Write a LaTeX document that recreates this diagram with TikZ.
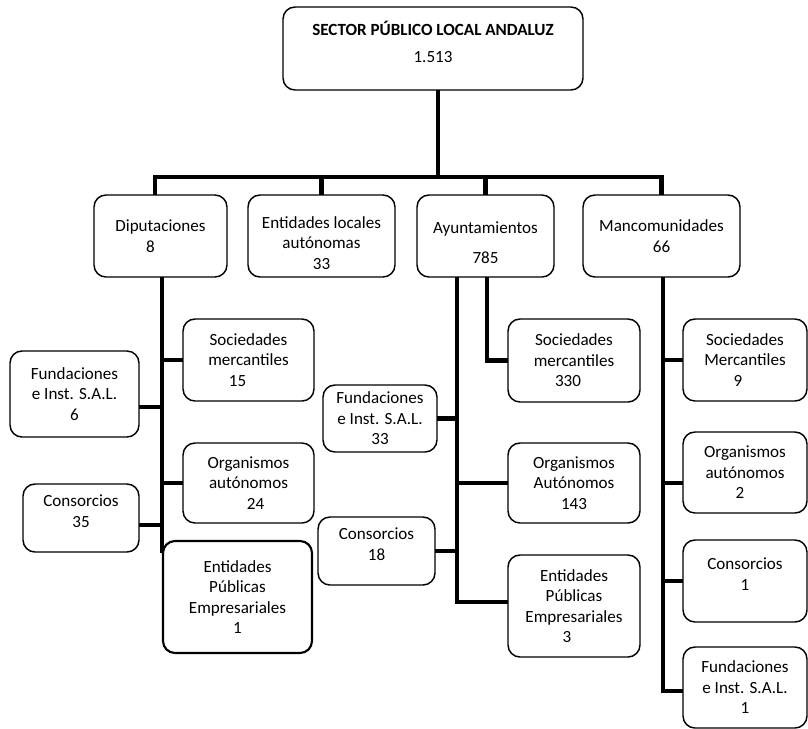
\documentclass[tikz,border=0pt]{standalone}
\usepackage{fontspec}
\setmainfont{Carlito}

\begin{document}
\begin{tikzpicture}[x=0.75pt,y=-0.75pt,
    box/.style={draw,rounded corners=9pt,line width=1.1pt,align=center,inner sep=0pt,outer sep=0pt,font=\fontsize{12.8}{15.4}\selectfont},
    conn/.style={line width=3.2pt}]

    \useasboundingbox (0,0) rectangle (808,729);

    \node[box,minimum width=225pt,minimum height=62.25pt] (sector) at (433,48.5) {\textbf{SECTOR PÚBLICO LOCAL ANDALUZ}\\[5pt]1.513\\[-5pt]\mbox{}};

    \node[box,minimum width=99.75pt,minimum height=61.5pt] (dip) at (160.5,236) {Diputaciones\\\hspace*{-15pt}8};
    \node[box,minimum width=110.25pt,minimum height=61.5pt] (ela) at (321.5,236) {\mbox{}\\[4pt]Entidades locales\\autónomas\\33};
    \node[box,minimum width=102.75pt,minimum height=61.5pt] (ayto) at (485.5,236) {\mbox{}\\[4pt]Ayuntamientos\\[7pt]785};
    \node[box,minimum width=117.75pt,minimum height=61.5pt] (manc) at (661.5,236) {Mancomunidades\\66};

    \node[box,minimum width=98.25pt,minimum height=61.5pt] (dsoc) at (248.5,360) {Sociedades\\mercantiles\\\hspace*{-16.5pt}15};
    \node[box,minimum width=96.75pt,minimum height=64.5pt] (dfun) at (74.5,394) {Fundaciones\\e Inst. S.A.L.\\6};
    \node[box,minimum width=98.25pt,minimum height=60pt] (dorg) at (248.5,483) {Organismos\\autónomos\\\hspace*{10.5pt}24};
    \node[box,minimum width=87pt,minimum height=51pt] (dcon) at (81,518) {Consorcios\\35\\[-5pt]\mbox{}};
    \node[box,line width=1.6pt,minimum width=111.75pt,minimum height=84pt] (dent) at (237.5,597) {Entidades\\Públicas\\Empresariales\\1};

    \node[box,minimum width=99pt,minimum height=62.25pt] (asoc) at (574,360.5) {Sociedades\\mercantiles\\\hspace*{-9pt}330};
    \node[box,minimum width=85.5pt,minimum height=50.25pt] (afun) at (380,418.5) {Fundaciones\\e Inst. S.A.L.\\33};
    \node[box,minimum width=99pt,minimum height=60pt] (aorg) at (574,483) {Organismos\\Autónomos\\143};
    \node[box,minimum width=87.75pt,minimum height=51pt] (acon) at (376.5,551) {Consorcios\\18\\[-5pt]\mbox{}};
    \node[box,minimum width=99pt,minimum height=76.5pt] (aent) at (574,606) {Entidades\\Públicas\\Empresariales\\\hspace*{-10.5pt}3};

    \node[box,minimum width=93pt,minimum height=61.5pt] (msoc) at (745,360) {Sociedades\\Mercantiles\\\hspace*{-10.5pt}9};
    \node[box,minimum width=93pt,minimum height=60.75pt] (morg) at (745,472.5) {Organismos\\autónomos\\\hspace*{-7.5pt}2};
    \node[box,minimum width=93pt,minimum height=61.5pt] (mcon) at (745,581) {Consorcios\\1\\[-5pt]\mbox{}};
    \node[box,minimum width=93pt,minimum height=60.75pt] (mfun) at (745,687.5) {Fundaciones\\e Inst. S.A.L.\\1};

    % primer nivel
    \coordinate (hub) at (438,177);
    \draw[conn] (sector.south -| hub) -- (hub);
    \draw[conn] ([xshift=-4pt]dip.north) |- (hub) -| (manc.north);
    \draw[conn] (ela.north) -- (ela.north |- hub);
    \draw[conn] (ayto.north) -- (ayto.north |- hub);

    % diputaciones
    \coordinate (dend) at (162,553);
    \draw[conn] (dip.south -| dend) -- (dend);
    \draw[conn] (dsoc.west) -- (dsoc.west -| dend);
    \draw[conn] ([yshift=-10pt]dfun.east) -- ([yshift=-10pt]dfun.east -| dend);
    \draw[conn] (dorg.west) -- (dorg.west -| dend);
    \draw[conn] ([yshift=-5pt]dcon.east) -- ([yshift=-5pt]dcon.east -| dend);

    % ayuntamientos
    \coordinate (aend) at (457,602);
    \coordinate (asplit) at (487,360);
    \draw[conn] (ayto.south -| aend) |- ([yshift=3pt]aent.west);
    \draw[conn] (ayto.south -| asplit) |- (asoc.west);
    \draw[conn] (afun.east) -- (afun.east -| aend);
    \draw[conn] (aorg.west) -- (aorg.west -| aend);
    \draw[conn] (acon.east) -- (acon.east -| aend);

    % mancomunidades
    \coordinate (mend) at (663,691);
    \draw[conn] (manc.south -| mend) |- ([yshift=-2.5pt]mfun.west);
    \draw[conn] (msoc.west) -- (msoc.west -| mend);
    \draw[conn] ([yshift=-8pt]morg.west) -- ([yshift=-8pt]morg.west -| mend);
    \draw[conn] (mcon.west) -- (mcon.west -| mend);

\end{tikzpicture}
\end{document}
